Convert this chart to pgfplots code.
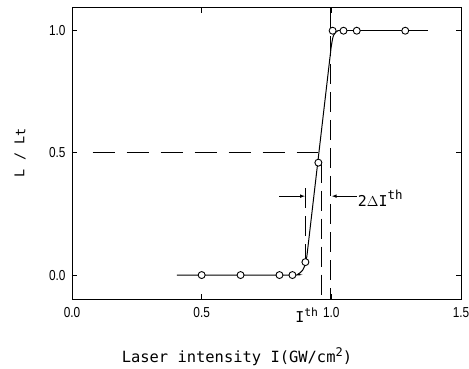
\documentclass[border=0pt]{standalone}
\usepackage{fontspec}
\setmainfont{DejaVu Sans Mono}
\newfontfamily\tickfont[FakeStretch=0.82]{Liberation Sans}
\usepackage{pgfplots}
\pgfplotsset{compat=1.18}
\begin{document}
\begin{tikzpicture}
\begin{axis}[
  name=ax,
  scale only axis,
  width=389bp, height=291bp,
  xmin=0, xmax=1.5,
  ymin=-0.098, ymax=1.093,
  xtick={0,0.5,1.0,1.5},
  ytick={0,0.5,1.0},
  xticklabels={0.0,0.5,1.0,1.5},
  yticklabels={0.0,0.5,1.0},
  tick pos=both,
  tick align=inside,
  major tick length=5bp,
  axis line style={line width=1pt},
  every tick/.style={line width=1pt, black},
  ticklabel style={font=\tickfont\fontsize{14.5}{15}\selectfont},
  /pgf/number format/assume math mode=true,
  xticklabel style={yshift=-5bp},
  yticklabel style={xshift=-3bp},
  clip=false,
]
% fitted curve
\addplot[black, line width=1pt, smooth, tension=0.4] coordinates {
  (0.404,0) (0.85,0) (0.872,0.004) (0.888,0.018) (0.9,0.045) (0.906,0.08)
};
\addplot[black, line width=1pt] coordinates {
  (0.906,0.08) (0.999,0.93)
};
\addplot[black, line width=1pt, smooth, tension=0.5] coordinates {
  (0.999,0.93) (1.008,0.98) (1.025,1.0) (1.05,1.0)
};
\addplot[black, line width=1pt] coordinates {(1.05,1.0) (1.372,1.0)};
% measured points
\addplot[only marks, mark=*, mark size=3.5pt, mark options={fill=white, draw=black, line width=0.9pt}] coordinates {
  (0.50,0) (0.65,0) (0.80,0) (0.85,0) (0.90,0.053) (0.95,0.46)
  (1.005,1.0) (1.047,1.0) (1.098,1.0) (1.285,1.0)
};
% dashed guide lines
\addplot[black, line width=0.9pt, dash pattern=on 22bp off 12bp] coordinates {(0.08,0.5) (0.95,0.5)};
\addplot[black, line width=0.9pt, dash pattern=on 20bp off 8bp] coordinates {(0.963,0.46) (0.963,-0.098)};
\addplot[black, line width=0.9pt, dash pattern=on 20bp off 8bp] coordinates {(0.998,1.093) (0.998,-0.098)};
\addplot[black, line width=0.9pt, dash pattern=on 20bp off 8bp] coordinates {(0.901,0.355) (0.901,0.06)};
% arrows
\addplot[black, line width=0.7pt, -latex] coordinates {(0.80,0.323) (0.898,0.323)};
\addplot[black, line width=0.7pt, -latex] coordinates {(1.098,0.323) (1.002,0.323)};
\node[anchor=west, font=\fontsize{15}{15}\selectfont, inner sep=0pt] at (axis cs:1.102,0.315) {2$\Delta$I\raisebox{7bp}{\fontsize{12.5}{12}\selectfont th}};
\node[anchor=base, font=\fontsize{15}{15}\selectfont, inner sep=0pt] at ([yshift=-23bp]axis cs:0.905,-0.098) {I\raisebox{6bp}{\fontsize{11.5}{12}\selectfont th}};
\node[anchor=base, font=\fontsize{15.5}{16}\selectfont, inner sep=0pt] at ([yshift=-63bp]axis cs:0.636,-0.098) {Laser intensity I(GW/cm\raisebox{6bp}{\fontsize{12}{12}\selectfont 2})};
\node[rotate=90, font=\fontsize{13.5}{13}\selectfont, inner sep=0pt] at ([xshift=-52bp]axis cs:0,0.5) {L / L\raisebox{-1bp}{t}};
\end{axis}
\pgfresetboundingbox
\path[use as bounding box] ([xshift=-72bp,yshift=-70bp]ax.south west) rectangle ([xshift=8bp,yshift=8bp]ax.north east);
\end{tikzpicture}
\end{document}
